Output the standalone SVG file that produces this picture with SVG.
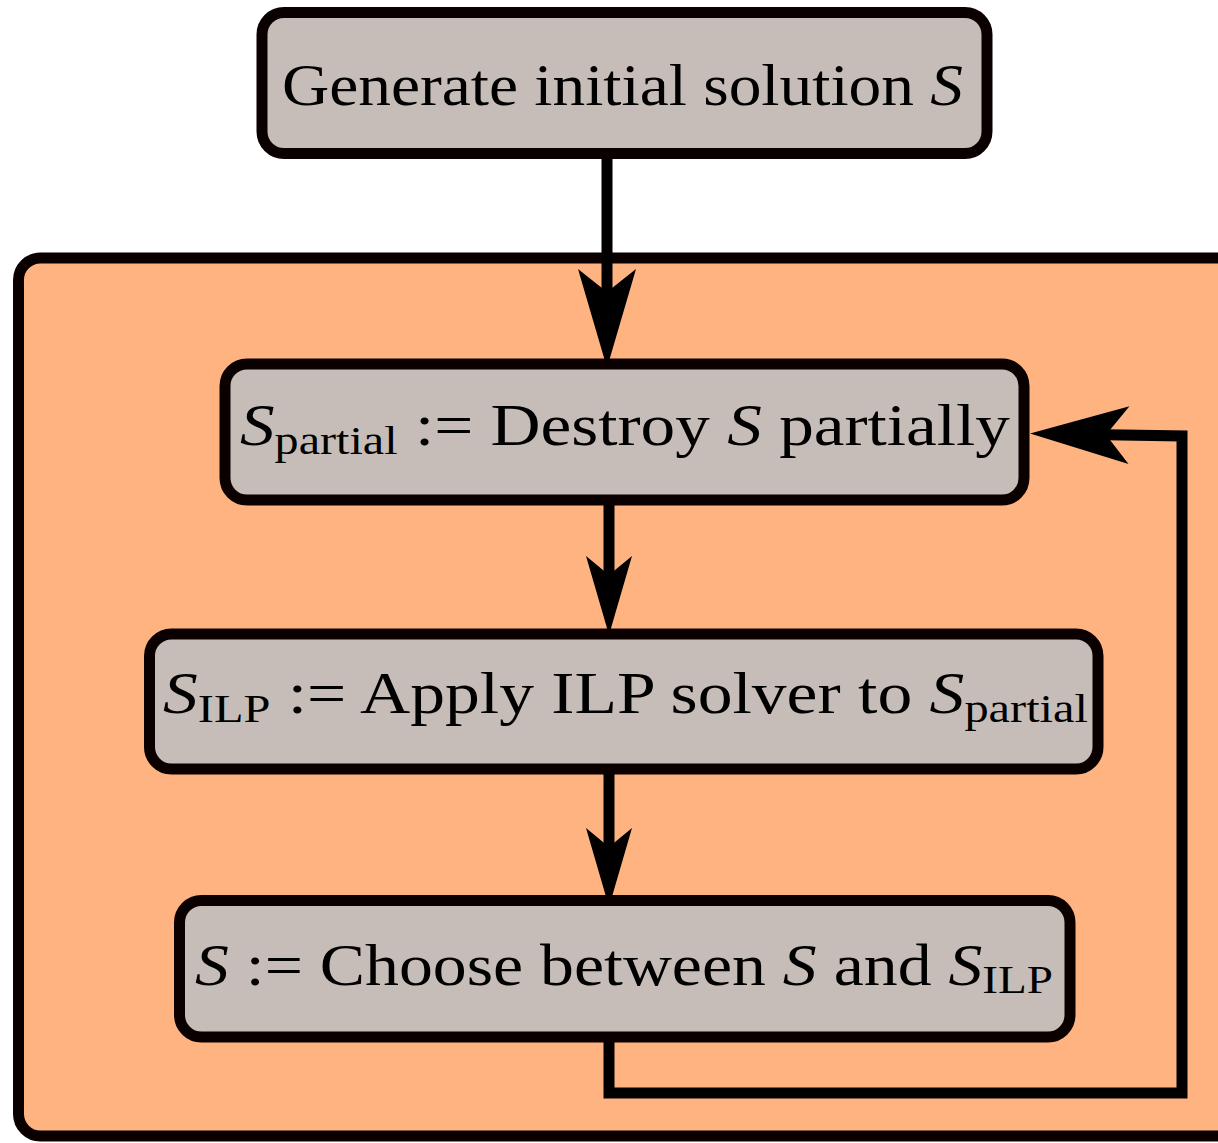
<svg xmlns="http://www.w3.org/2000/svg" width="1218" height="1143" viewBox="0 0 1218 1143">
<defs>
<style>
.box{fill:#c7bdb8;stroke:#0a0000;stroke-width:11}
.frame{fill:#ffb380;stroke:#0a0000;stroke-width:11}
.lbl{font-family:"Liberation Serif","Times New Roman",serif;font-size:59px;fill:#000}
.i{font-style:italic}
.sub{font-size:41px}
.conn{fill:none;stroke:#000;stroke-width:11}
</style>
<marker id="bigHead" markerUnits="userSpaceOnUse" viewBox="-40 -30 102 60" markerWidth="102" markerHeight="60" refX="0" refY="0" orient="auto" overflow="visible">
<path d="M61,0 L-38,-29 L-15,0 L-38,29 Z" fill="#000"/>
</marker>
<marker id="smallHead" markerUnits="userSpaceOnUse" viewBox="-36 -24 82 48" markerWidth="82" markerHeight="48" refX="0" refY="0" orient="auto" overflow="visible">
<path d="M45,0 L-34,-23 L-15,0 L-34,23 Z" fill="#000"/>
</marker>
</defs>
<g id="loop-frame">
<rect class="frame" x="18.5" y="258" width="1240" height="878" rx="22" ry="22"/>
</g>
<g id="connectors">
<path class="conn" d="M607,153 V307" marker-end="url(#bigHead)"/>
<path class="conn" d="M609,500 V590" marker-end="url(#smallHead)"/>
<path class="conn" d="M609,769 V862" marker-end="url(#smallHead)"/>
<path class="conn" d="M609,1037 V1093 H1182 V436 L1091,434.5" marker-end="url(#bigHead)"/>
</g>
<g id="node-init">
<rect class="box" x="262" y="12.5" width="725" height="141" rx="22" ry="22"/>
<text class="lbl" x="282" y="105" textLength="681" lengthAdjust="spacingAndGlyphs">Generate initial solution <tspan class="i">S</tspan></text>
</g>
<g id="node-destroy">
<rect class="box" x="225" y="364" width="799" height="136" rx="22" ry="22"/>
<text class="lbl" x="240" y="445" textLength="770" lengthAdjust="spacingAndGlyphs"><tspan class="i">S</tspan><tspan class="sub" dy="9">partial</tspan><tspan dy="-9"> := Destroy </tspan><tspan class="i">S</tspan> partially</text>
</g>
<g id="node-ilp">
<rect class="box" x="149.5" y="634" width="948.5" height="135" rx="22" ry="22"/>
<text class="lbl" x="163" y="713" textLength="925" lengthAdjust="spacingAndGlyphs"><tspan class="i">S</tspan><tspan class="sub" dy="9">ILP</tspan><tspan dy="-9"> := Apply ILP solver to </tspan><tspan class="i">S</tspan><tspan class="sub" dy="9">partial</tspan></text>
</g>
<g id="node-choose">
<rect class="box" x="179.5" y="900.5" width="890.5" height="136.5" rx="22" ry="22"/>
<text class="lbl" x="195" y="985" textLength="858" lengthAdjust="spacingAndGlyphs"><tspan class="i">S</tspan> := Choose between <tspan class="i">S</tspan> and <tspan class="i">S</tspan><tspan class="sub" dy="8">ILP</tspan></text>
</g>
</svg>
